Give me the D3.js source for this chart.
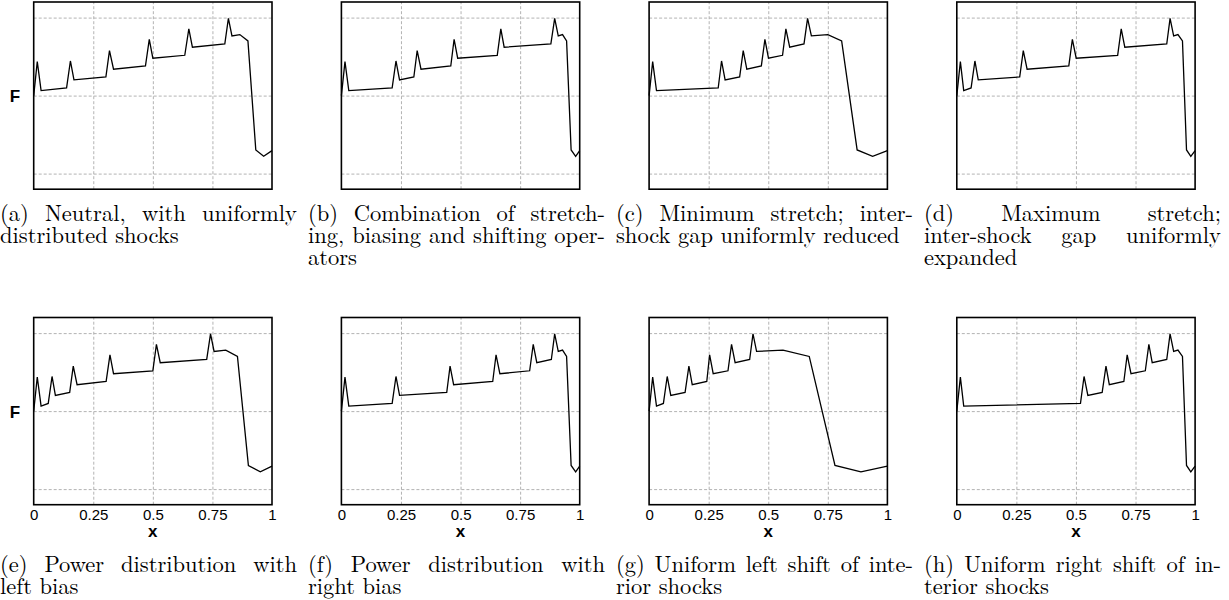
<!DOCTYPE html>
<html>
<head>
<meta charset="utf-8">
<script src="https://cdn.jsdelivr.net/npm/d3@7/dist/d3.min.js"></script>
<style>
  html, body { margin: 0; padding: 0; background: #fff; }
  svg { display: block; }
</style>
</head>
<body>
<svg id="chart" width="1229" height="600"></svg>
<script>
// ---------- data ----------
// F values (same sequence of states in every panel)
const fValues = [1.0, 1.436, 1.064, 1.098, 1.444, 1.201, 1.239, 1.577, 1.338, 1.380, 1.722, 1.479,
                 1.517, 1.855, 1.620, 1.662, 1.991, 1.765, 1.782, 1.701, 0.303, 0.222, 0.295];
// x positions per panel
const xA = [0, 0.015, 0.031, 0.138, 0.154, 0.169, 0.303, 0.318, 0.335, 0.469, 0.485, 0.500,
            0.634, 0.651, 0.666, 0.802, 0.817, 0.832, 0.865, 0.899, 0.932, 0.965, 1.0];
const xB = [0, 0.015, 0.031, 0.213, 0.229, 0.244, 0.304, 0.318, 0.334, 0.459, 0.473, 0.488,
            0.654, 0.669, 0.683, 0.879, 0.895, 0.910, 0.928, 0.945, 0.964, 0.983, 1.0];
const xC = [0, 0.015, 0.031, 0.290, 0.304, 0.319, 0.380, 0.395, 0.410, 0.471, 0.486, 0.501,
            0.560, 0.574, 0.590, 0.650, 0.665, 0.681, 0.750, 0.808, 0.873, 0.938, 1.0];
const xD = [0, 0.015, 0.029, 0.060, 0.076, 0.090, 0.264, 0.279, 0.295, 0.470, 0.485, 0.501,
            0.675, 0.690, 0.705, 0.881, 0.895, 0.910, 0.928, 0.947, 0.964, 0.982, 1.0];
const xE = [0, 0.015, 0.031, 0.061, 0.077, 0.091, 0.151, 0.166, 0.182, 0.304, 0.320, 0.335,
            0.500, 0.515, 0.531, 0.726, 0.742, 0.757, 0.806, 0.855, 0.901, 0.951, 1.0];
const xF = [0, 0.015, 0.031, 0.213, 0.229, 0.244, 0.442, 0.456, 0.471, 0.635, 0.649, 0.665,
            0.790, 0.805, 0.820, 0.881, 0.895, 0.910, 0.928, 0.945, 0.964, 0.983, 1.0];
const xG = [0, 0.015, 0.031, 0.060, 0.076, 0.091, 0.151, 0.167, 0.181, 0.242, 0.254, 0.269,
            0.331, 0.346, 0.361, 0.422, 0.436, 0.451, 0.562, 0.672, 0.780, 0.889, 1.0];
const xH = [0, 0.015, 0.029, 0.519, 0.534, 0.550, 0.610, 0.626, 0.640, 0.701, 0.715, 0.731,
            0.791, 0.806, 0.820, 0.881, 0.895, 0.910, 0.928, 0.947, 0.964, 0.982, 1.0];

const xTickValues = [0, 0.25, 0.5, 0.75, 1];
const xTickLabels = ["0", "0.25", "0.5", "0.75", "1"];
const yGridValues = [0, 1, 2];
const xLabel = "x";
const yLabel = "F";

const captions = [
  ["(a) Neutral, with uniformly", "distributed shocks"],
  ["(b) Combination of stretch-", "ing, biasing and shifting oper-", "ators"],
  ["(c) Minimum stretch; inter-", "shock gap uniformly reduced"],
  ["(d) Maximum stretch;", "inter-shock gap uniformly", "expanded"],
  ["(e) Power distribution with", "left bias"],
  ["(f) Power distribution with", "right bias"],
  ["(g) Uniform left shift of inte-", "rior shocks"],
  ["(h) Uniform right shift of in-", "terior shocks"]
];
const panelX = [xA, xB, xC, xD, xE, xF, xG, xH];

// ---------- layout ----------
const svg = d3.select("#chart");
const plotW = 238.3, plotH = 187.2;
const colPitch = 307.7, firstLeft = 33.7;
const rowTops = [2.0, 317.5];
const capStart = 0, capPitch = 308, capWidth = 297;
const capBaselines = [[221, 243, 265], [572, 594]];
const capSize = 22.5;
const serif = "'Latin Modern Roman','CMU Serif','Liberation Serif','Times New Roman',serif";
const sans = "'Liberation Sans',Arial,Helvetica,sans-serif";

// text measurer
const meas = svg.append("text").attr("font-family", serif).attr("font-size", capSize)
  .attr("x", -1000).attr("y", -1000);
function wordWidth(w) { meas.text(w); return meas.node().getComputedTextLength(); }

panelX.forEach((xs, i) => {
  const row = Math.floor(i / 4), col = i % 4;
  const left = firstLeft + col * colPitch, top = rowTops[row];
  const x = d3.scaleLinear().domain([0, 1]).range([left, left + plotW]);
  const y = d3.scaleLinear().domain([-0.2, 2.2]).range([top + plotH, top]);
  const g = svg.append("g");

  // vertical grid
  g.append("g")
    .attr("transform", `translate(0,${top + plotH})`)
    .call(d3.axisBottom(x).tickValues([0.25, 0.5, 0.75]).tickSize(-plotH).tickFormat(""))
    .call(a => a.select(".domain").remove())
    .call(a => a.selectAll("line").attr("stroke", "#aaa").attr("stroke-width", 0.9).attr("stroke-dasharray", "3,2"));
  // horizontal grid
  g.append("g")
    .attr("transform", `translate(${left},0)`)
    .call(d3.axisLeft(y).tickValues(yGridValues).tickSize(-plotW).tickFormat(""))
    .call(a => a.select(".domain").remove())
    .call(a => a.selectAll("line").attr("stroke", "#aaa").attr("stroke-width", 0.9).attr("stroke-dasharray", "3,2"));

  // data line
  const pts = xs.map((xv, k) => [xv, fValues[k]]);
  g.append("path")
    .datum(pts)
    .attr("fill", "none")
    .attr("stroke", "#000")
    .attr("stroke-width", 1.3)
    .attr("stroke-linejoin", "miter")
    .attr("d", d3.line().x(d => x(d[0])).y(d => y(d[1])));

  // frame
  g.append("rect")
    .attr("x", left).attr("y", top).attr("width", plotW).attr("height", plotH)
    .attr("fill", "none").attr("stroke", "#000").attr("stroke-width", 1.6);

  // y label on first column
  if (col === 0) {
    g.append("text")
      .attr("x", 15).attr("y", top + plotH / 2 + 6.5)
      .attr("text-anchor", "middle")
      .attr("font-family", sans).attr("font-weight", "bold").attr("font-size", 17)
      .text(yLabel);
  }
  // x axis labels on bottom row
  if (row === 1) {
    const ax = g.append("g")
      .attr("transform", `translate(0,${top + plotH})`)
      .call(d3.axisBottom(x).tickValues(xTickValues).tickSize(0).tickPadding(5)
        .tickFormat((d, k) => xTickLabels[k]));
    ax.select(".domain").remove();
    ax.selectAll("text").attr("font-family", sans).attr("font-size", 15).attr("fill", "#000");
    g.append("text")
      .attr("x", x(0.5)).attr("y", top + plotH + 32)
      .attr("text-anchor", "middle")
      .attr("font-family", sans).attr("font-weight", "bold").attr("font-size", 17)
      .text(xLabel);
  }

  // caption: one text element, justified lines as tspans
  const cx = capStart + col * capPitch;
  const lines = captions[i];
  const spaceW = wordWidth("a b") - wordWidth("ab");
  const t = g.append("text")
    .attr("font-family", serif).attr("font-size", capSize).attr("fill", "#000");
  lines.forEach((line, li) => {
    const words = line.split(" ");
    const base = capBaselines[row][li];
    const isLast = li === lines.length - 1;
    const widths = words.map(wordWidth);
    const total = d3.sum(widths);
    const gap = (!isLast && words.length > 1) ? (capWidth - total) / (words.length - 1) : spaceW;
    let cur = cx;
    words.forEach((w, k) => {
      t.append("tspan").attr("x", cur).attr("y", base).text(w);
      cur += widths[k] + gap;
    });
  });
});
meas.remove();
</script>
</body>
</html>
